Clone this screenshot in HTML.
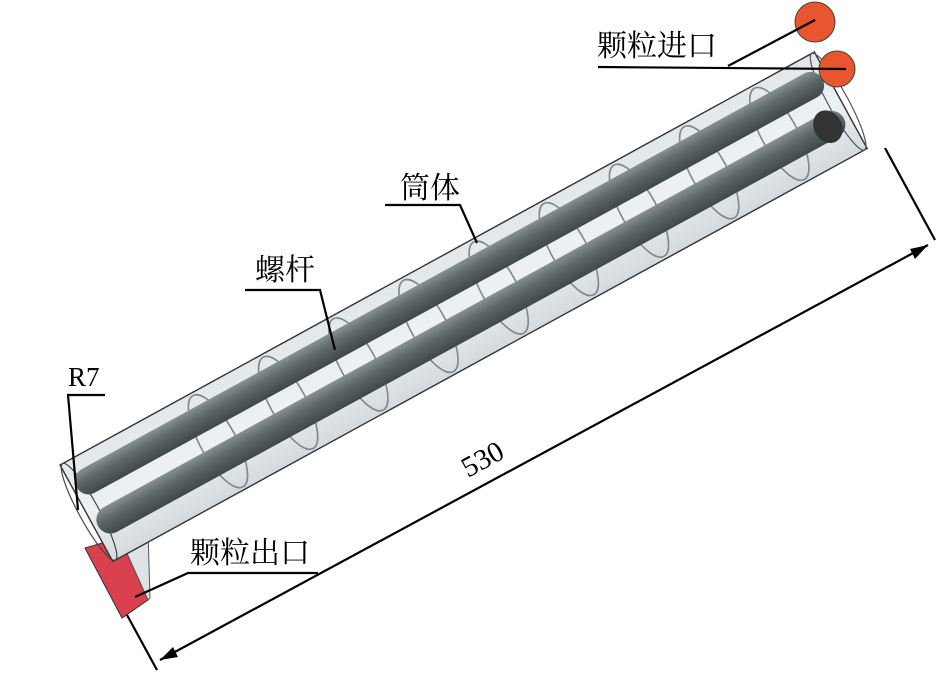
<!DOCTYPE html>
<html><head><meta charset="utf-8"><style>
html,body{margin:0;padding:0;background:#fff;}
svg{display:block;}
text{font-family:"Liberation Serif","Noto Serif CJK SC","Noto Sans CJK SC",serif;fill:#000;}
</style></head><body>
<svg width="945" height="679" viewBox="0 0 945 679" xmlns="http://www.w3.org/2000/svg">
<defs>
<linearGradient id="sh" x1="0" y1="0" x2="0" y2="1">
<stop offset="0" stop-color="#879193"/><stop offset="0.4" stop-color="#5e696b"/><stop offset="1" stop-color="#3f4849"/>
</linearGradient>
<linearGradient id="tb" x1="0" y1="0" x2="0" y2="1">
<stop offset="0" stop-color="#e2e7ea"/><stop offset="0.5" stop-color="#eef1f3"/><stop offset="1" stop-color="#d3dadd"/>
</linearGradient>
</defs>
<polygon points="85,548 120,538 148,600 122,618" fill="#d9414f" stroke="#333" stroke-width="1"/>
<polygon points="120,538 148,530 150,598 148,600" fill="#e0e3e5" stroke="#555" stroke-width="1"/>
<g transform="translate(60,465) rotate(-28.7)">
  <rect x="0" y="0" width="860" height="110" fill="url(#tb)" stroke="#333" stroke-width="1.4"/>
  <ellipse cx="3" cy="55" rx="10" ry="55" fill="none" stroke="#444" stroke-width="1.2"/>
  <ellipse cx="857" cy="55" rx="10" ry="55" fill="none" stroke="#555" stroke-width="1.2"/>
  <g fill="none" stroke="#7f888b" stroke-width="1.6">
    <ellipse cx="150" cy="55" rx="18" ry="52"/>
    <ellipse cx="230" cy="55" rx="18" ry="52"/>
    <ellipse cx="310" cy="55" rx="18" ry="52"/>
    <ellipse cx="390" cy="55" rx="18" ry="52"/>
    <ellipse cx="470" cy="55" rx="18" ry="52"/>
    <ellipse cx="550" cy="55" rx="18" ry="52"/>
    <ellipse cx="630" cy="55" rx="18" ry="52"/>
    <ellipse cx="710" cy="55" rx="18" ry="52"/>
    <ellipse cx="790" cy="55" rx="18" ry="52"/>
  </g>
  <rect x="4" y="14" width="850" height="27" rx="13" fill="url(#sh)"/>
  <rect x="4" y="58" width="850" height="28" rx="14" fill="url(#sh)"/>
  <ellipse cx="836" cy="72" rx="14" ry="17" fill="#333"/>
</g>
<circle cx="815" cy="22" r="20" fill="#e8552e" stroke="#444" stroke-width="1"/>
<circle cx="837" cy="69" r="18" fill="#e8552e" stroke="#444" stroke-width="1"/>
<g stroke="#000" stroke-width="2.2" fill="none">
  <polyline points="598,67 846,69"/>
  <line x1="728" y1="66" x2="815" y2="20"/>
  <polyline points="385,205 460,205 477,243"/>
  <polyline points="245,290 320,290 335,350"/>
  <polyline points="105,395 68,395 78,510"/>
  <polyline points="318,573 188,573 135,597"/>
  <line x1="885" y1="148" x2="935" y2="240"/>
  <line x1="127" y1="615" x2="157" y2="670"/>
  <line x1="160" y1="660" x2="928" y2="245"/>
</g>
<polygon points="928,245 910,249 915,259" fill="#000"/>
<polygon points="160,660 178,657 173,647" fill="#000"/>
<text x="597" y="56" font-size="30">颗粒进口</text>
<text x="400" y="198" font-size="30">筒体</text>
<text x="255" y="280" font-size="30">螺杆</text>
<text x="68" y="386" font-size="27">R7</text>
<text x="190" y="563" font-size="30">颗粒出口</text>
<text x="0" y="0" font-size="29" transform="translate(468,478) rotate(-28.7)">530</text>
</svg>
</body></html>
